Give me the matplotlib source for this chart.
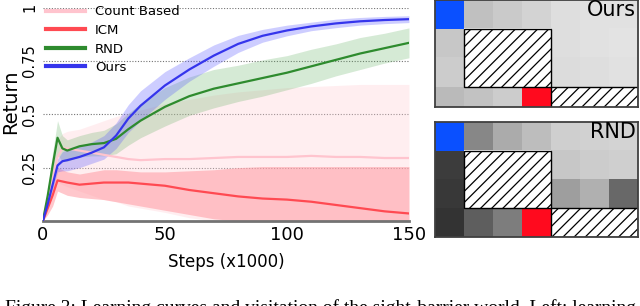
import numpy as np
import matplotlib

matplotlib.use("Agg")
import matplotlib.pyplot as plt  # noqa: E402
from matplotlib.patches import Rectangle  # noqa: E402

# ---- learning curves (steps in thousands) -----------------------------------
steps = [0, 2, 4, 6, 8, 10, 15, 20, 25, 30, 35, 40, 50, 60, 70, 80, 90, 100,
         110, 120, 130, 140, 150]

count_mean = [0, 0.10, 0.20, 0.30, 0.34, 0.34, 0.33, 0.32, 0.31, 0.30, 0.29, 0.285,
              0.29, 0.29, 0.295, 0.30, 0.30, 0.30, 0.305, 0.30, 0.30, 0.295, 0.295]
count_lo = [0, 0.06, 0.12, 0.18, 0.17, 0.16, 0.14, 0.12, 0.10, 0.09, 0.07, 0.06,
            0.04, 0.015, 0, 0, 0, 0, 0, 0, 0, 0, 0]
count_hi = [0, 0.12, 0.25, 0.38, 0.41, 0.42, 0.43, 0.45, 0.47, 0.49, 0.505, 0.52,
            0.55, 0.57, 0.59, 0.605, 0.615, 0.625, 0.63, 0.635, 0.64, 0.64, 0.64]

icm_mean = [0, 0.06, 0.12, 0.19, 0.185, 0.18, 0.17, 0.175, 0.18, 0.18, 0.18, 0.175,
            0.165, 0.145, 0.13, 0.115, 0.105, 0.10, 0.09, 0.075, 0.06, 0.045, 0.035]
icm_lo = [0, 0.03, 0.07, 0.14, 0.13, 0.12, 0.11, 0.105, 0.10, 0.09, 0.08, 0.07,
          0.05, 0.03, 0.01, 0, 0, 0, 0, 0, 0, 0, 0]
icm_hi = [0, 0.08, 0.16, 0.25, 0.24, 0.23, 0.22, 0.23, 0.24, 0.24, 0.235, 0.23,
          0.23, 0.235, 0.24, 0.25, 0.255, 0.255, 0.255, 0.255, 0.255, 0.255, 0.255]

rnd_mean = [0, 0.12, 0.26, 0.39, 0.34, 0.33, 0.35, 0.36, 0.365, 0.385, 0.43, 0.47,
            0.535, 0.585, 0.62, 0.645, 0.67, 0.695, 0.725, 0.755, 0.785, 0.81, 0.835]
rnd_err = [0, 0.03, 0.06, 0.08, 0.06, 0.05, 0.05, 0.055, 0.06, 0.07, 0.075, 0.08,
           0.09, 0.09, 0.09, 0.085, 0.085, 0.08, 0.08, 0.075, 0.075, 0.07, 0.07]

ours_mean = [0, 0.08, 0.17, 0.26, 0.28, 0.285, 0.30, 0.32, 0.345, 0.40, 0.48, 0.54,
             0.635, 0.71, 0.775, 0.83, 0.868, 0.893, 0.912, 0.926, 0.936, 0.942, 0.946]
ours_err = [0, 0.01, 0.02, 0.03, 0.045, 0.05, 0.05, 0.05, 0.055, 0.06, 0.065, 0.07,
            0.065, 0.055, 0.05, 0.04, 0.03, 0.025, 0.02, 0.02, 0.018, 0.017, 0.016]

# ---- visitation maps (grey level, nan = wall) --------------------------------
nan = np.nan
ours_map = [[0.0, 0.75, 0.79, 0.83, 0.87, 0.88, 0.88],
            [0.78, nan, nan, nan, 0.87, 0.88, 0.89],
            [0.80, nan, nan, nan, 0.86, 0.87, 0.88],
            [0.73, 0.76, 0.80, 0.0, nan, nan, nan]]
rnd_map = [[0.0, 0.53, 0.67, 0.74, 0.81, 0.82, 0.83],
           [0.24, nan, nan, nan, 0.78, 0.80, 0.81],
           [0.22, nan, nan, nan, 0.62, 0.69, 0.41],
           [0.20, 0.37, 0.49, 0.0, nan, nan, nan]]
START = (0, 0)   # (row, col)
GOAL = (3, 3)
WALLS = [(1, 1, 3, 2), (3, 4, 3, 1)]  # (row, col, width, height)

plt.rcParams["hatch.linewidth"] = 0.9
fig = plt.figure(figsize=(6.4, 3.06), dpi=100)

# ---- left: learning curves -----------------------------------------------------
ax = fig.add_axes([0.067, 0.278, 0.572, 0.697])
t = np.array(steps)
ax.fill_between(t, count_lo, count_hi, color="#ffd0d6", alpha=0.35, lw=0, zorder=1)
ax.fill_between(t, icm_lo, icm_hi, color="#ff9aa2", alpha=0.55, lw=0, zorder=2)
ax.fill_between(t, np.array(rnd_mean) - rnd_err, np.array(rnd_mean) + rnd_err,
                color="#5aac5a", alpha=0.25, lw=0, zorder=3)
ax.fill_between(t, np.array(ours_mean) - ours_err, np.array(ours_mean) + ours_err,
                color="#5c5cff", alpha=0.3, lw=0, zorder=4)
ax.plot(t, count_mean, color="#ffc4ce", lw=1.6, label="Count Based", zorder=5)
ax.plot(t, icm_mean, color="#ff4a52", lw=1.6, label="ICM", zorder=5)
ax.plot(t, rnd_mean, color="#2e8b2e", lw=1.6, label="RND", zorder=5)
ax.plot(t, ours_mean, color="#3535ec", lw=1.6, label="Ours", zorder=6)

ax.set_xlim(0, 150)
ax.set_ylim(0, 1)
ax.set_xticks([0, 50, 100, 150])
ax.set_yticks([0.25, 0.5, 0.75, 1])
ax.set_yticklabels(["0.25", "0.5", "0.75", "1"], rotation=90, va="center")
ax.tick_params(axis="y", length=0, labelsize=10.5, pad=4)
ax.tick_params(axis="x", length=0, labelsize=13, pad=4)
ax.grid(axis="y", color="0.45", lw=0.8, ls=(0, (1, 1.5)))
ax.set_axisbelow(True)
for s in ("left", "right", "top"):
    ax.spines[s].set_visible(False)
ax.spines["bottom"].set_color("0.45")
ax.spines["bottom"].set_linewidth(2)
ax.set_xlabel("Steps (x1000)", fontsize=12, labelpad=6)
ax.set_ylabel("Return", fontsize=14)
ax.yaxis.set_label_coords(-0.062, 0.56)
leg = ax.legend(loc="upper left", frameon=False, fontsize=9.5, handlelength=2.95,
                handletextpad=0.75, labelspacing=0.42, borderaxespad=0.0,
                bbox_to_anchor=(-0.005, 1.035))
for h in leg.get_lines():
    h.set_linewidth(3)


# ---- right: visitation maps ------------------------------------------------------
def grid_map(rect, values, name, ybottom):
    a = fig.add_axes(rect)
    cmap = plt.get_cmap("gray").copy()
    cmap.set_bad("white")
    a.imshow(np.array(values, dtype=float), cmap=cmap, vmin=0, vmax=1,
             aspect="auto", interpolation="nearest")
    a.add_patch(Rectangle((START[1] - 0.5, START[0] - 0.5), 1, 1, color="#0a50ff", lw=0))
    a.add_patch(Rectangle((GOAL[1] - 0.5, GOAL[0] - 0.5), 1, 1, color="#ff0a1e", lw=0))
    for r, c, w, h in WALLS:
        a.add_patch(Rectangle((c - 0.5, r - 0.5), w, h, facecolor="white",
                              edgecolor="black", hatch="///", lw=1.0))
    a.set_xlim(-0.5, 6.5)
    a.set_ylim(ybottom, -0.5)
    a.set_xticks([])
    a.set_yticks([])
    for s in a.spines.values():
        s.set_color("0.25")
        s.set_linewidth(1.3)
    a.text(6.42, -0.5, name, ha="right", va="top", fontsize=15)


grid_map([0.680, 0.650, 0.317, 0.35], ours_map, "Ours", 3.19)
grid_map([0.680, 0.2255, 0.317, 0.376], rnd_map, "RND", 3.5)

# caption of the source page, cut by the bottom edge
fig.text(0.008, -0.024, "Figure 3: Learning curves and visitation of the sight-barrier world. Left: learning",
         fontsize=14, family="Liberation Serif", va="baseline")

fig.savefig("out.png", dpi=100)
